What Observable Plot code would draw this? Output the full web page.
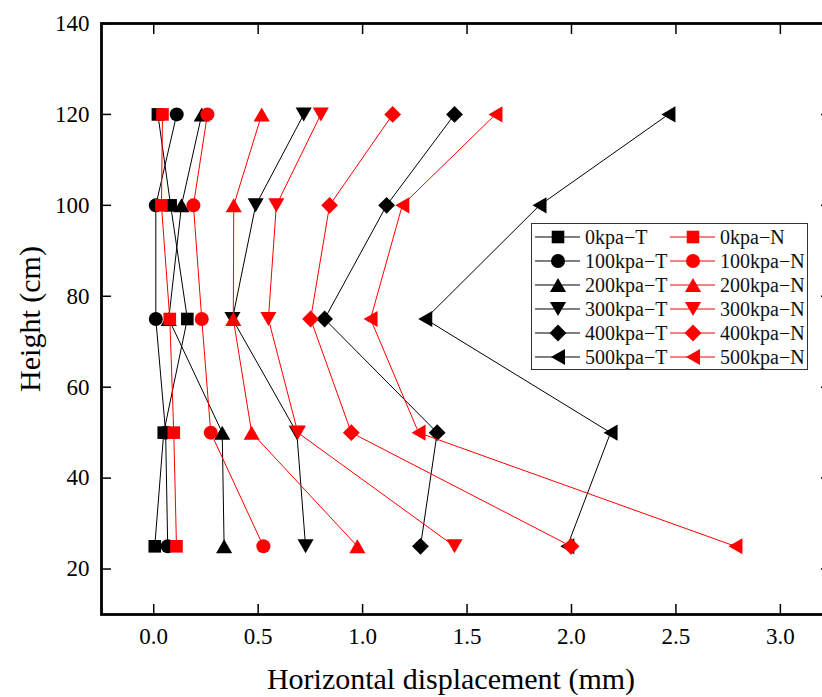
<!DOCTYPE html>
<html><head><meta charset="utf-8">
<script src="https://cdn.jsdelivr.net/npm/d3@7"></script>
<script src="https://cdn.jsdelivr.net/npm/@observablehq/plot@0.6"></script>
<style>
html,body{margin:0;padding:0;background:#fff;overflow:hidden;}
#wrap{position:relative;width:822px;height:697px;overflow:hidden;font-family:'Liberation Serif','Times New Roman',serif;}
</style></head><body><div id="wrap"></div>
<script>
// ---- data ----
const heights = [25, 50, 75, 100, 120];
const pressures = ["0kpa", "100kpa", "200kpa", "300kpa", "400kpa", "500kpa"];
const conditions = ["T", "N"];
const kpa0T   = [0.005, 0.048, 0.161, 0.081, 0.020];
const kpa100T = [0.067, 0.057, 0.010, 0.010, 0.110];
const kpa200T = [0.337, 0.328, 0.072, 0.133, 0.230];
const kpa300T = [0.727, 0.685, 0.377, 0.488, 0.718];
const kpa400T = [1.277, 1.357, 0.818, 1.115, 1.440];
const kpa500T = [1.980, 2.187, 1.300, 1.847, 2.464];
const kpa0N   = [0.109, 0.096, 0.077, 0.037, 0.042];
const kpa100N = [0.525, 0.273, 0.230, 0.190, 0.257];
const kpa200N = [0.975, 0.469, 0.381, 0.383, 0.517];
const kpa300N = [1.440, 0.690, 0.549, 0.587, 0.800];
const kpa400N = [1.998, 0.946, 0.751, 0.842, 1.144];
const kpa500N = [2.785, 1.268, 1.038, 1.190, 1.636];
const xTicks = [0, 0.5, 1, 1.5, 2, 2.5, 3];
const yTicks = [20, 40, 60, 80, 100, 120, 140];
const xLabel = "Horizontal displacement (mm)";
const yLabel = "Height (cm)";

const valuesT = [kpa0T, kpa100T, kpa200T, kpa300T, kpa400T, kpa500T];
const valuesN = [kpa0N, kpa100N, kpa200N, kpa300N, kpa400N, kpa500N];

// ---- styles ----
const serif = "'Liberation Serif','Times New Roman',serif";
const condColors = {T: "#000000", N: "#ff0000"};
function sym(draw){return {draw(c,size){const r=Math.sqrt(size/Math.PI);draw(c,r);}};}
const symSquare  = sym((c,r)=>{const h=0.9*r;c.moveTo(-h,-h);c.lineTo(h,-h);c.lineTo(h,h);c.lineTo(-h,h);c.closePath();});
const symCircle  = sym((c,r)=>{c.moveTo(r,0);c.arc(0,0,r,0,2*Math.PI);c.closePath();});
const symUp      = sym((c,r)=>{c.moveTo(0,-r);c.lineTo(1.15*r,r);c.lineTo(-1.15*r,r);c.closePath();});
const symDown    = sym((c,r)=>{c.moveTo(0,r);c.lineTo(1.15*r,-r);c.lineTo(-1.15*r,-r);c.closePath();});
const symDiamond = sym((c,r)=>{const h=1.2*r;c.moveTo(0,-h);c.lineTo(h,0);c.lineTo(0,h);c.lineTo(-h,0);c.closePath();});
const symLeft    = sym((c,r)=>{c.moveTo(-r,0);c.lineTo(r,-1.15*r);c.lineTo(r,1.15*r);c.closePath();});
const symbols = [symSquare, symCircle, symUp, symDown, symDiamond, symLeft];

// ---- build series ----
const series = [];
conditions.forEach(cond => {
  const vals = cond === "T" ? valuesT : valuesN;
  pressures.forEach((p, i) => {
    series.push({
      name: p + "\u2212" + cond, cond, symbol: symbols[i],
      rows: heights.map((h, j) => ({x: vals[i][j], y: h}))
    });
  });
});

const marks = [];
series.forEach(s => {
  marks.push(Plot.line(s.rows, {x: "x", y: "y", stroke: condColors[s.cond], strokeWidth: 1}));
  marks.push(Plot.dot(s.rows, {x: "x", y: "y", symbol: s.symbol, r: 7, fill: condColors[s.cond], stroke: "none"}));
});

const chart = Plot.plot({
  width: 822, height: 697,
  marginLeft: 101, marginRight: -8, marginTop: 23, marginBottom: 83,
  style: {fontFamily: serif, color: "#000", background: "#fff"},
  x: {domain: [-0.25, 3.24], axis: null},
  y: {domain: [10, 140], axis: null},
  marks: [
    ...marks,
    Plot.axisX(xTicks, {anchor: "bottom", tickSize: -10, tickPadding: 23, tickFormat: d3.format(".1f"), fontSize: 23, label: null, strokeWidth: 1.5}),
    Plot.axisX(xTicks, {anchor: "top", tickSize: -10, tickFormat: () => "", label: null, strokeWidth: 1.5}),
    Plot.axisY(yTicks, {anchor: "left", tickSize: -10, tickPadding: 22, fontSize: 23, label: null, strokeWidth: 1.5}),
    Plot.axisY(yTicks, {anchor: "right", tickSize: -10, tickFormat: () => "", label: null, strokeWidth: 1.5}),
    Plot.frame({stroke: "#000", strokeWidth: 2.8}),
    Plot.text([xLabel], {text: d => d, frameAnchor: "bottom", dx: -15, dy: 65, fontSize: 30, textAnchor: "middle", lineAnchor: "middle", fill: "#000"}),
    Plot.text([yLabel], {text: d => d, frameAnchor: "left", dx: -71, rotate: -90, fontSize: 30, textAnchor: "middle", lineAnchor: "middle", fill: "#000"})
  ]
});
const wrap = document.getElementById("wrap");
wrap.appendChild(chart);

// ---- legend (HTML overlay) ----
const lg = d3.create("svg").attr("width", 278).attr("height", 148)
  .style("position", "absolute").style("left", "531px").style("top", "223px");
lg.append("rect").attr("x", 0.5).attr("y", 0.5).attr("width", 276).attr("height", 146)
  .attr("fill", "#fff").attr("stroke", "#333").attr("stroke-width", 1);
const colX = {T: 4, N: 139};
series.forEach((s, k) => {
  const row = k % 6;
  const y = 14 + row * 24;
  const x0 = colX[s.cond];
  const g = lg.append("g");
  g.append("line").attr("x1", x0).attr("x2", x0 + 45).attr("y1", y).attr("y2", y)
    .attr("stroke", condColors[s.cond]).attr("stroke-width", 1);
  g.append("path").attr("d", d3.symbol(s.symbol, Math.PI * 7 * 7)())
    .attr("transform", `translate(${x0 + 23},${y})`).attr("fill", condColors[s.cond]);
  g.append("text").attr("x", x0 + 50).attr("y", y).attr("dy", "0.35em")
    .attr("font-size", 20).attr("font-family", serif)
    .attr("fill", "#111").text(s.name);
});
wrap.appendChild(lg.node());
</script>
</body></html>
